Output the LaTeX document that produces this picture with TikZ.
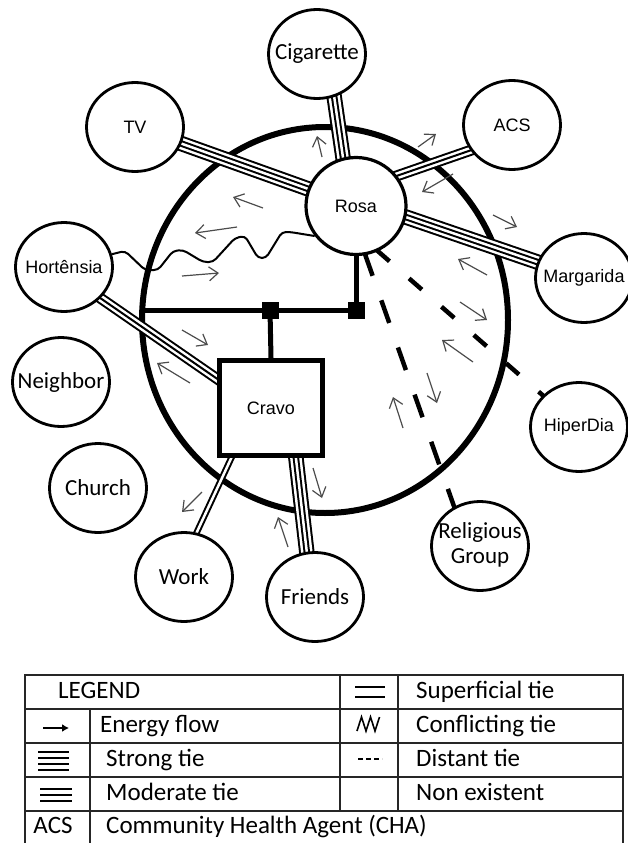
\documentclass[tikz,border=0pt]{standalone}
\usepackage{fontspec}
\setmainfont{Liberation Sans}
\newfontfamily\calfont{Carlito}
\usetikzlibrary{arrows.meta,shapes.geometric}
\pgfdeclarelayer{bgl}
\pgfdeclarelayer{tiel}
\pgfsetlayers{bgl,tiel,main}
\newcommand{\plab}[1]{\makebox[0pt]{#1}}
\begin{document}
\begin{tikzpicture}[x=1pt,y=-1pt,
  persona/.style={ellipse, draw, line width=2.8pt, fill=white, minimum width=97pt, minimum height=89pt, inner sep=0pt},
  calab/.style={font={\calfont\fontsize{23}{27}\selectfont}},
  arlab/.style={font={\fontsize{18}{20}\selectfont}},
  strongtie/.style={line width=15.5pt, postaction={draw=white,line width=11.5pt}, postaction={draw=black,line width=6.5pt}, postaction={draw=white,line width=2.5pt}},
  modtie/.style={line width=11pt, postaction={draw=white,line width=7pt}, postaction={draw=black,line width=2pt}},
  suptie/.style={line width=6.5pt, postaction={draw=white,line width=2.5pt}},
  distline/.style={line width=4.5pt},
  conflict/.style={line width=2pt, rounded corners=4pt},
  jline/.style={line width=5pt},
  eflow/.style={draw=black!70, line width=1.2pt, -{Straight Barb[length=9pt,width=14pt]}},
  tabline/.style={draw=black!85, line width=1.5pt},
  leg/.style={font={\calfont\fontsize{25}{28}\selectfont}, anchor=base west, inner sep=0pt}
]
\useasboundingbox (0,0) rectangle (627,843);

% ---------- nodes ----------
\node[persona,calab] (cig) at (317,54) {\plab{Cigarette}};
\node[persona,arlab] (tv) at (135,127) {\plab{TV}};
\node[persona,arlab] (acs) at (512,125) {\plab{ACS}};
\node[persona,arlab,minimum width=100pt,minimum height=97pt,line width=3.2pt] (rosa) at (356,206) {\plab{Rosa}};
\node[persona,arlab] (hort) at (64,267) {\plab{Hortênsia}};
\node[persona,arlab] (marg) at (584,278) {\plab{Margarida}};
\node[persona,calab] (neigh) at (61,382) {\plab{Neighbor}};
\node[persona,arlab] (hiper) at (579,427) {\plab{HiperDia}};
\node[persona,calab] (church) at (98,488) {\plab{Church}};
\node[persona,calab] (work) at (184,577) {\plab{Work}};
\node[persona,calab] (friends) at (315,597) {\plab{Friends}};
\node[persona,calab] (relig) at (480,546) {\plab{\begin{tabular}{@{}c@{}}Religious\\[-2pt]Group\end{tabular}}};
\node[draw,line width=5pt,fill=white,minimum width=103pt,minimum height=95pt,inner sep=0pt,arlab] (cravo) at (271,408) {Cravo};

% ---------- big circle ----------
\begin{pgfonlayer}{bgl}
\draw[line width=6pt] (325,320) ellipse [x radius=183, y radius=193];
\end{pgfonlayer}

% ---------- ties ----------
\begin{pgfonlayer}{tiel}
\draw[strongtie] (tv.center) -- (rosa.center);
\draw[strongtie] ([xshift=11pt]cig.center) -- ([xshift=-6pt]rosa.center);
\draw[modtie] ([yshift=16pt]rosa.center) -- ([yshift=-11pt]acs.center);
\draw[strongtie] ([yshift=6pt]rosa.center) -- (marg.center);
\draw[modtie] ([yshift=-6pt]hort.center) -- ([yshift=-8pt]cravo.center);
\draw[suptie] ([xshift=-36pt,yshift=8pt]cravo.south) -- ([xshift=-8pt]work.center);
\draw[strongtie] ([xshift=24pt,yshift=8pt]cravo.south) -- ([xshift=-3pt]friends.center);
\draw[distline, dash pattern=on 24pt off 26pt] ([xshift=-8pt]rosa.center) -- ([xshift=-12pt]relig.center);
\draw[distline, dash pattern=on 17pt off 26pt, dash phase=15.5pt] ([yshift=-26pt]rosa.center) -- (hiper.center);
\draw[conflict] (hort.15) -- (125,251) -- (145,270) -- (158,270) -- (173,251) -- (183,250) -- (203,262) -- (213,262) -- (235,238) -- (245,236) -- (258,258) -- (266,258) -- (282,232) -- (290,232) -- (rosa.216);
\coordinate (jL) at (142,310);
\coordinate (jC) at (270,310);
\coordinate (jR) at (356,310);
\draw[jline] (jL) -- (jR);
\draw[jline] (rosa.center) -- (jR);
\draw[jline] (jC) -- (cravo.north);
\fill (jC) +(-8.5,-8.5) rectangle +(8.5,8.5);
\fill (jR) +(-8.5,-8.5) rectangle +(8.5,8.5);
\end{pgfonlayer}

% ---------- energy flow arrows ----------
\draw[eflow] (322,157) -- (317,136);
\draw[eflow] (418,147) -- (436,134);
\draw[eflow] (453,174) -- (422,192);
\draw[eflow] (263,208) -- (233,197);
\draw[eflow] (237,227) -- (195,233);
\draw[eflow] (182,276) -- (219,273);
\draw[eflow] (182,330) -- (208,345);
\draw[eflow] (190,383) -- (157,363);
\draw[eflow] (202,492) -- (182,512);
\draw[eflow] (313,468) -- (322,498);
\draw[eflow] (288,547) -- (278,517);
\draw[eflow] (493,215) -- (517,227);
\draw[eflow] (487,275) -- (458,259);
\draw[eflow] (460,302) -- (487,320);
\draw[eflow] (473,362) -- (442,340);
\draw[eflow] (427,373) -- (437,403);
\draw[eflow] (403,428) -- (393,397);

% ---------- legend ----------
\draw[tabline] (25,675) rectangle (623,860);
\draw[tabline] (25,709) -- (623,709);
\draw[tabline] (25,743) -- (623,743);
\draw[tabline] (25,777) -- (623,777);
\draw[tabline] (25,811) -- (623,811);
\draw[tabline] (90,709) -- (90,860);
\draw[tabline] (340,675) -- (340,811);
\draw[tabline] (398,675) -- (398,811);

\node[leg] (lgT) at (58,698) {LEGEND};
\node[leg] (lgE) at (100,732) {Energy flow};
\node[leg] (lgS) at (106,766) {Strong tie};
\node[leg] (lgM) at (106,800) {Moderate tie};
\node[leg] (lgC) at (106,833) {Community Health Agent (CHA)};
\node[leg,anchor=base] (lgA) at (53,833) {ACS};
\node[leg] (lgSu) at (416,698) {Superficial tie};
\node[leg] (lgCo) at (416,732) {Conflicting tie};
\node[leg] (lgD) at (416,766) {Distant tie};
\node[leg] (lgN) at (416,800) {Non existent};

\draw[line width=2pt,-{Latex[length=7pt,width=8pt]}] (43,728) -- (69,728);
\foreach \yy in {752,758,764,770} \draw[line width=2.2pt] (38,\yy) -- (69,\yy);
\foreach \yy in {789,795,801} \draw[line width=2.2pt] (40,\yy) -- (72,\yy);
\draw[line width=2.6pt] (355,687) -- (385,687);
\draw[line width=2.6pt] (355,697) -- (385,697);
\draw[line width=1.6pt, line join=miter] (357,731) -- (361.5,717) -- (366,731) -- (370.5,717) -- (375,731) -- (379.5,717);
\draw[line width=1.5pt, dash pattern=on 5pt off 3pt] (358,759) -- (382,759);
\end{tikzpicture}
\end{document}
